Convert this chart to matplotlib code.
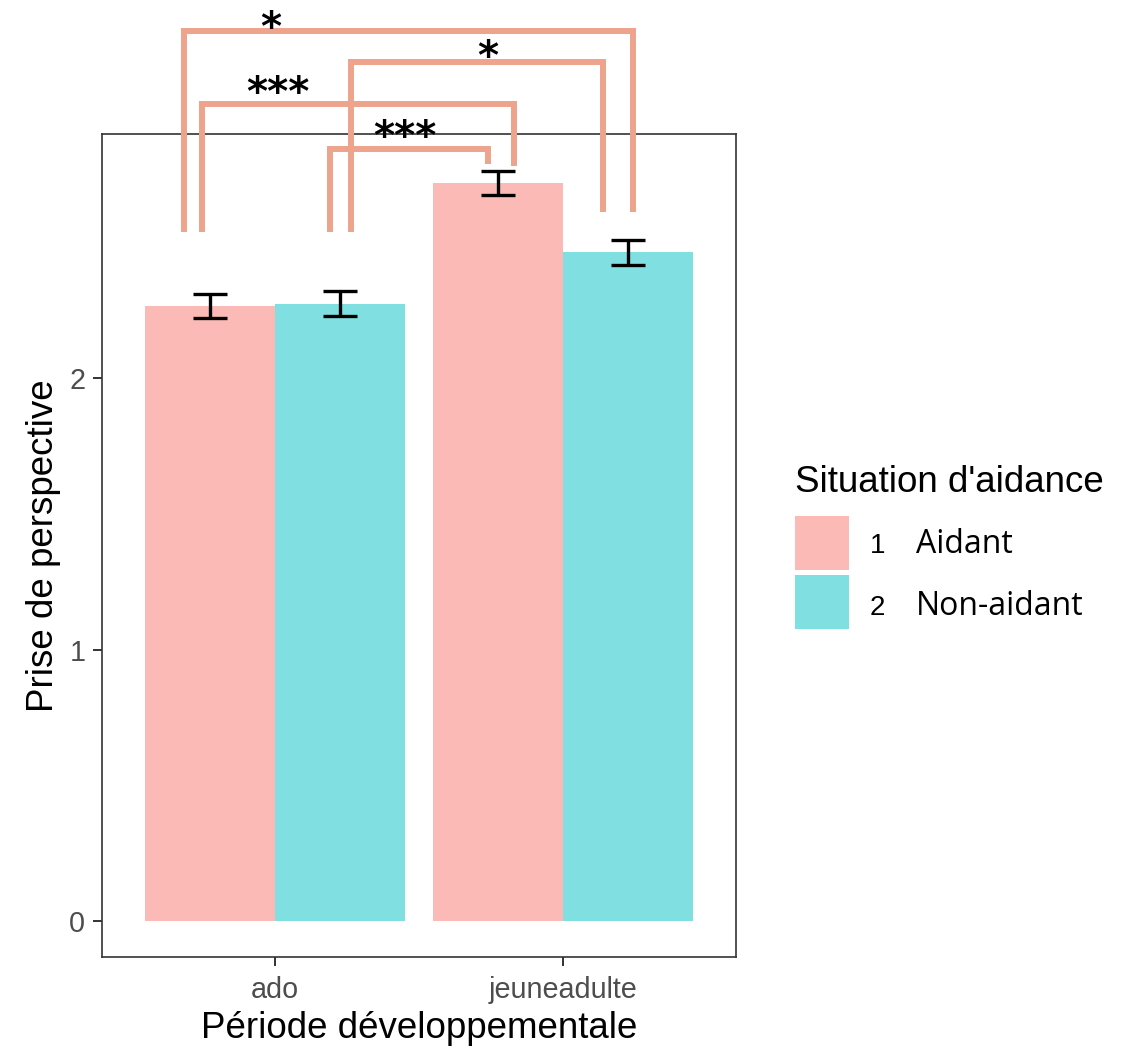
#!/usr/bin/env python

import numpy as np
import matplotlib
matplotlib.use("Agg")
import matplotlib.pyplot as plt
from matplotlib.patches import Rectangle

# data
periods = ["ado", "jeuneadulte"]
groups = ["Aidant", "Non-aidant"]
group_codes = ["1", "2"]
means_aidant = [2.265, 2.718]
means_nonaidant = [2.273, 2.464]
se_aidant = [0.045, 0.043]
se_nonaidant = [0.046, 0.046]

# significance brackets: left x, right x, left tip, right tip, top, label, label x, label baseline
brk_x1 = [0.685, 1.263, 0.747, 1.190]
brk_x2 = [2.242, 2.138, 1.830, 1.740]
brk_y1 = [2.538, 2.538, 2.538, 2.538]
brk_y2 = [2.611, 2.611, 2.781, 2.788]
brk_top = [3.278, 3.164, 3.009, 2.843]
brk_lab = ["*", "*", "***", "***"]
brk_lab_x = [0.984, 1.737, 1.012, 1.451]
brk_lab_y = [3.245, 3.138, 3.006, 2.843]

col_a = "#FBBAB6"
col_n = "#80DFE1"
col_brk = "#EEA48C"
fs_title = 26.5
fs_tick = 20.7

plt.rcParams["font.family"] = ["Liberation Sans", "DejaVu Sans"]

fig = plt.figure(figsize=(11.34, 10.48), dpi=100)
ax = fig.add_axes([102/1134, 1-957/1048, 634/1134, 823/1048])

x = np.arange(1, len(periods)+1)
w = 0.45
ax.bar(x - w/2, means_aidant, w, color=col_a, linewidth=0)
ax.bar(x + w/2, means_nonaidant, w, color=col_n, linewidth=0)
ax.errorbar(x - w/2, means_aidant, yerr=se_aidant, fmt="none", ecolor="black",
            elinewidth=2.4, capsize=12.5, capthick=2.4)
ax.errorbar(x + w/2, means_nonaidant, yerr=se_nonaidant, fmt="none", ecolor="black",
            elinewidth=2.4, capsize=12.5, capthick=2.4)

# brackets, drawn outside the panel
for i in range(len(brk_x1)):
    ax.plot([brk_x1[i], brk_x1[i], brk_x2[i], brk_x2[i]],
            [brk_y1[i], brk_top[i], brk_top[i], brk_y2[i]],
            color=col_brk, linewidth=4.3, clip_on=False, solid_joinstyle="miter",
            solid_capstyle="butt", zorder=3)
    ax.text(brk_lab_x[i], brk_lab_y[i], brk_lab[i], ha="center", va="baseline",
            fontsize=29, family="DejaVu Sans", fontweight="bold",
            clip_on=False, zorder=4)

ax.set_xlim(0.4, 2.6)
ax.set_ylim(-0.1326, 2.899)
ax.set_xticks(x)
ax.set_xticklabels(periods)
ax.set_yticks([0, 1, 2])
ax.tick_params(axis="both", length=6.5, width=1.4, color="#333333",
               labelcolor="#4D4D4D", labelsize=fs_tick, pad=5.5)
ax.tick_params(axis="x", pad=7)
for s in ax.spines.values():
    s.set_color("#333333")
    s.set_linewidth(1.2)

ax.set_xlabel("Période développementale", fontsize=fs_title, labelpad=5)
ax.set_ylabel("Prise de perspective", fontsize=fs_title, labelpad=6)

# legend built by hand to get the mixed fonts
fig.text(795/1134, 1-492/1048, "Situation d'aidance", fontsize=fs_title,
         ha="left", va="baseline")
key_top = [516, 575]
key_cols = [col_a, col_n]
lab_base = [553, 615]
for i in range(len(groups)):
    fig.add_artist(Rectangle((795/1134, 1-(key_top[i]+54)/1048), 54/1134, 54/1048,
                             transform=fig.transFigure, color=key_cols[i], lw=0))
    fig.text(870/1134, 1-lab_base[i]/1048, group_codes[i], fontsize=20,
             ha="left", va="baseline")
    fig.text(916/1134, 1-lab_base[i]/1048, groups[i], fontsize=23,
             family=["Open Sans", "DejaVu Sans"], ha="left", va="baseline")

plt.savefig("out.png", dpi=100)
